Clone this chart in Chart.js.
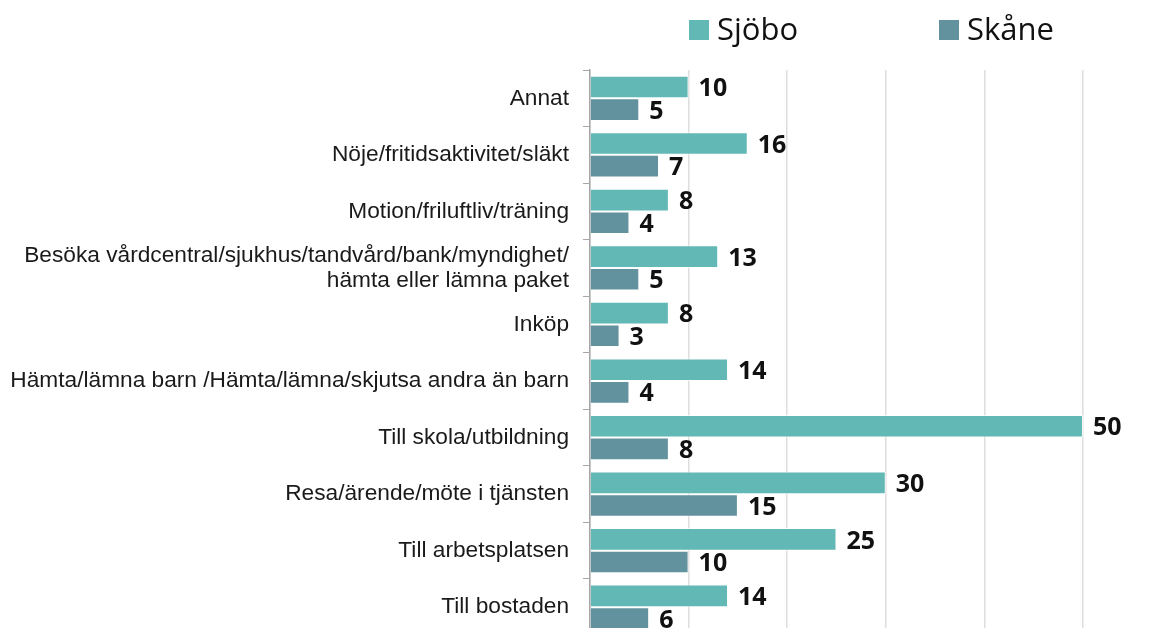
<!DOCTYPE html>
<html>
<head>
<meta charset="utf-8">
<script src="https://cdn.jsdelivr.net/npm/chart.js@4"></script>
<style>
  html, body { margin: 0; padding: 0; background: #fff; overflow: hidden; }
</style>
</head>
<body>
<canvas id="chart" width="1169" height="662"></canvas>
<script>
const categories = [
  'Annat',
  'Nöje/fritidsaktivitet/släkt',
  'Motion/friluftliv/träning',
  ['Besöka vårdcentral/sjukhus/tandvård/bank/myndighet/', 'hämta eller lämna paket'],
  'Inköp',
  'Hämta/lämna barn /Hämta/lämna/skjutsa andra än barn',
  'Till skola/utbildning',
  'Resa/ärende/möte i tjänsten',
  'Till arbetsplatsen',
  'Till bostaden'
];
const sjoboValues = [10, 16, 8, 13, 8, 14, 50, 30, 25, 14];
const skaneValues = [5, 7, 4, 5, 3, 4, 8, 15, 10, 6];
const seriesNames = ['Sjöbo', 'Skåne'];
const seriesColors = ['#62b8b4', '#62929e'];

// numbers next to each bar
const valueLabels = {
  id: 'valueLabels',
  afterDatasetsDraw(chart) {
    const ctx = chart.ctx;
    ctx.save();
    ctx.font = 'bold 25px "Open Sans"';
    ctx.fillStyle = '#111';
    ctx.textAlign = 'left';
    ctx.textBaseline = 'middle';
    chart.data.datasets.forEach((ds, i) => {
      chart.getDatasetMeta(i).data.forEach((bar, j) => {
        ctx.fillText(ds.data[j], bar.x + 10, bar.y + 2);
      });
    });
    ctx.restore();
  }
};

// legend drawn top right
const topLegend = {
  id: 'topLegend',
  afterDraw(chart) {
    const ctx = chart.ctx;
    const xs = [689, 939];
    ctx.save();
    ctx.font = '31px "Open Sans"';
    ctx.textBaseline = 'middle';
    chart.data.datasets.forEach((ds, i) => {
      ctx.fillStyle = ds.backgroundColor;
      ctx.fillRect(xs[i], 20, 20, 20);
      ctx.fillStyle = '#111';
      ctx.fillText(ds.label, xs[i] + 28, 31);
    });
    ctx.restore();
  }
};

new Chart(document.getElementById('chart'), {
  type: 'bar',
  data: {
    labels: categories,
    datasets: seriesNames.map((name, i) => ({
      label: name,
      data: i === 0 ? sjoboValues : skaneValues,
      backgroundColor: seriesColors[i],
      borderColor: 'rgba(255,255,255,0.7)',
      borderWidth: 1,
      barPercentage: 1.0,
      categoryPercentage: 0.8
    }))
  },
  options: {
    indexAxis: 'y',
    responsive: false,
    animation: false,
    layout: { padding: { top: 70, right: 86, bottom: 5, left: 0 } },
    plugins: {
      legend: { display: false },
      tooltip: { enabled: false }
    },
    scales: {
      x: {
        min: 0,
        max: 50,
        afterFit(s) { s.height = 0; },
        ticks: { display: false, stepSize: 10 },
        grid: { color: '#dedede', lineWidth: 1.5, drawTicks: false },
        border: { display: false }
      },
      y: {
        afterFit(s) { s.width = 590; },
        ticks: {
          color: '#1a1a1a',
          font: { family: 'Liberation Sans', size: 22.7, lineHeight: 1.1 },
          padding: 14
        },
        grid: { offset: true, drawOnChartArea: false, drawTicks: true, tickLength: 7, color: '#a6a6a6' },
        border: { display: true, color: '#a6a6a6', width: 1.5 }
      }
    }
  },
  plugins: [valueLabels, topLegend]
});
</script>
</body>
</html>
